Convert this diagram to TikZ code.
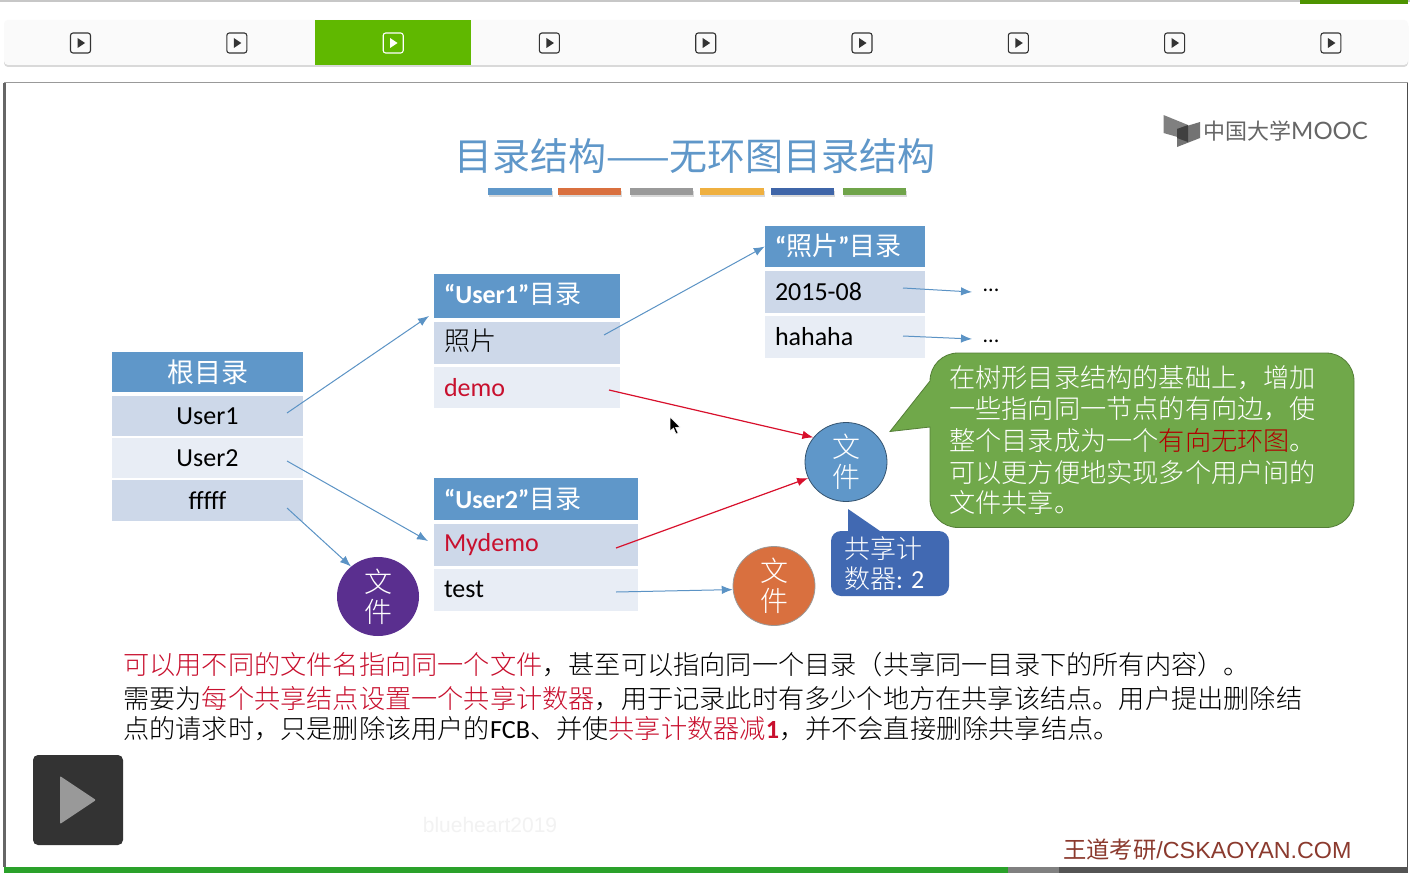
\documentclass[tikz,border=0pt]{standalone}
\usepackage{fontspec}
\usetikzlibrary{shapes.geometric,arrows.meta}
\setmainfont{Carlito}
\newfontfamily\cjk{Noto Sans CJK SC Light}
\newfontfamily\cjkr{Noto Sans CJK SC}
\newfontfamily\logofont{Lato}
\newfontfamily\footfont{Liberation Sans}
\newcommand{\cj}[1]{{\cjk #1}}
\newcommand{\cjr}[1]{{\cjkr #1}}
\definecolor{hdrblue}{HTML}{5F97C9}
\definecolor{rowdark}{HTML}{CDD8E9}
\definecolor{rowlight}{HTML}{E8EDF5}
\definecolor{redtxt}{HTML}{C8102E}
\definecolor{arrblue}{HTML}{5B93C5}
\definecolor{arrred}{HTML}{D8102C}
\definecolor{callgreen}{HTML}{70A84A}
\definecolor{callblue}{HTML}{4169B2}
\definecolor{barfill}{HTML}{FAFAFA}
\definecolor{acgreen}{HTML}{60B800}
\definecolor{filepurple}{HTML}{5A2F8F}
\definecolor{fileorange}{HTML}{D9703F}
\definecolor{bargray}{HTML}{9A9A9A}
\definecolor{bargold}{HTML}{EFB040}
\definecolor{bardkblue}{HTML}{3F65A8}
\definecolor{bargreen}{HTML}{70A44A}
\definecolor{footbrown}{HTML}{8B3A2E}
\definecolor{progress}{HTML}{2AA12A}
\tikzset{
  x=1pt,y=-1pt,
  cell/.style={rectangle,inner ysep=0pt,inner xsep=10pt,minimum height=#1,font=\fontsize{26}{28}\selectfont,anchor=center},
  hdr/.style={cell=#1,fill=hdrblue,text=white},
  rowd/.style={cell=#1,fill=rowdark,text=black},
  rowl/.style={cell=#1,fill=rowlight,text=black},
  bluearrow/.style={draw=arrblue,line width=1pt,-{Latex[length=11pt,width=8.5pt]}},
  redarrow/.style={draw=arrred,line width=1.2pt,-{Latex[length=11pt,width=8.5pt]}},
  filecircle/.style={ellipse,inner sep=0pt,minimum width=82pt,minimum height=79pt,text=white,align=center,font=\fontsize{28}{30}\selectfont\cjk},
  tabicon/.style={draw=#1,line width=1.1pt,rounded corners=2.5pt},
  bodytext/.style={inner sep=0pt,align=left,anchor=north west,font=\fontsize{26.2}{30}\selectfont\cjk},
}
\begin{document}
\begin{tikzpicture}
\useasboundingbox (0,0) rectangle (1410,875);
\fill[white] (0,0) rectangle (1410,875);
% window chrome
\fill[black!22] (0,0) rectangle (1410,2);
\fill[acgreen!80!black] (1300,0) rectangle (1408,4);
\fill[black!15,rounded corners=4pt] (4,22) rectangle (1408,67);
\fill[barfill,rounded corners=4pt] (4,20) rectangle (1408,65);
\fill[acgreen] (315,20) rectangle (471,65);
\foreach \c in {80.5,236.8,549.4,705.7,862,1018.3,1174.6,1330.9}{
  \draw[tabicon=black!80] (\c-10,33) rectangle (\c+10,53);
  \fill[black!80] (\c-3,38) -- (\c+4.5,43) -- (\c-3,48) -- cycle;
}
\draw[tabicon=white] (383.2,33) rectangle (403.2,53);
\fill[white] (390,38) -- (397.5,43) -- (390,48) -- cycle;
% slide frame
\draw[black!40,line width=0.8pt] (4,82.5) -- (1408,82.5);
\fill[black!60] (3,83) rectangle (6,867);
\fill[black!70] (1407,83) rectangle (1408,867);
% logo
\fill[black!50] (1163.5,115) -- (1188,125) -- (1188,140) -- (1163.5,133) -- cycle;
\fill[black!55] (1200,122) -- (1200,138) -- (1177,147) -- (1177,129) -- cycle;
\fill[black!75] (1177,129) -- (1188,125) -- (1188,142) -- (1177,138) -- cycle;
\node[inner sep=0pt,anchor=west,text=black!60] (logotext) at (1203,131) {\fontsize{22}{24}\selectfont\cjkr 中国大学\logofont\fontsize{24}{30}\selectfont MOOC};
% title
\node[inner sep=0pt,text=hdrblue] (title) at (695,156) {\fontsize{38}{40}\selectfont\cjkr 目录结构——无环图目录结构};
\foreach \a/\b/\cc in {488/552/hdrblue,558/621/fileorange,630/693/bargray,700/764/bargold,771/834/bardkblue,843/906/bargreen}{
  \fill[black!15] (\a+1,191) rectangle (\b+1,197);
  \fill[\cc] (\a,188) rectangle (\b,195);
}
% root table
\node[hdr=40pt,minimum width=191pt] (root) at (207.5,372) {\fontsize{27}{28}\selectfont\cjkr 根目录};
\node[rowd=40pt,minimum width=191pt] (rootA) at (207.5,416) {User1};
\node[rowl=40pt,minimum width=191pt] (rootB) at (207.5,458) {User2};
\node[rowd=41pt,minimum width=191pt] (rootC) at (207.5,500.5) {fffff};
% user1 table
\node[hdr=44pt,text width=166pt,align=left] (uone) at (527,296) {\raisebox{5pt}{\textbf{“User1”}\cjr{目录}}};
\node[rowd=42pt,text width=166pt,align=left] (uoneA) at (527,343) {\raisebox{6pt}{\cj{照片}}};
\node[rowl=41pt,text width=166pt,align=left] (uoneB) at (527,387.5) {\textcolor{redtxt}{demo}};
% photo table
\node[hdr=41pt,text width=140pt,align=left] (photo) at (845,246.5) {\raisebox{3pt}{\textbf{“}\cjr{照片}\textbf{”}\cjr{目录}}};
\node[rowd=42pt,text width=140pt,align=left] (photoA) at (845,292) {\raisebox{1pt}{2015-08}};
\node[rowl=42pt,text width=140pt,align=left] (photoB) at (845,337) {\raisebox{1pt}{hahaha}};
% user2 table
\node[hdr=42pt,text width=184pt,align=left] (utwo) at (536,499) {\raisebox{2pt}{\textbf{“User2”}\cjr{目录}}};
\node[rowd=42pt,text width=184pt,align=left] (utwoA) at (536,545) {\textcolor{redtxt}{Mydemo}};
\node[rowl=42pt,text width=184pt,align=left] (utwoB) at (536,590) {\raisebox{1pt}{test}};
% files
\node[filecircle,fill=filepurple] (filePurple) at (378,596.5) {文\\件};
\node[filecircle,fill=hdrblue,draw=black!45!hdrblue,line width=0.8pt] (fileBlue) at (846,462) {文\\件};
\node[filecircle,fill=fileorange,draw=black!40,line width=0.8pt] (fileOrange) at (774,586) {文\\件};
% dots
\node[inner sep=0pt,font=\fontsize{22}{24}\selectfont] (dotsA) at (991,290) {...};
\node[inner sep=0pt,font=\fontsize{22}{24}\selectfont] (dotsB) at (991,341) {...};
% connector anchors
\coordinate (sA) at (287,413); \coordinate (eA) at (429,316);
\coordinate (sB) at (287,461); \coordinate (eB) at (428,541);
\coordinate (sC) at (287,508);
\coordinate (sD) at (604,335);
\coordinate (sE) at (903,288); \coordinate (eE) at (972,292);
\coordinate (sF) at (903,336); \coordinate (eF) at (972,339);
\coordinate (sG) at (609,390);
\coordinate (sH) at (616,548);
\coordinate (sI) at (616,592);
\draw[bluearrow] (sA) -- (eA);
\draw[bluearrow] (sB) -- (eB);
\draw[bluearrow] (sC) -- (filePurple.132);
\draw[bluearrow] (sD) -- (photo.west);
\draw[bluearrow] (sE) -- (eE);
\draw[bluearrow] (sF) -- (eF);
\draw[redarrow] (sG) -- (fileBlue.143);
\draw[redarrow] (sH) -- (fileBlue.203);
\draw[bluearrow] (sI) -- (fileOrange.185);
% green callout
\draw[fill=callgreen,draw=callgreen!75!black,line width=0.8pt] (890,431.5) -- (930,381) .. controls (930,365.5) and (942.5,353) .. (958,353) -- (1326,353) .. controls (1341.5,353) and (1354,365.5) .. (1354,381) -- (1354,499.5) .. controls (1354,515) and (1341.5,527.5) .. (1326,527.5) -- (958,527.5) .. controls (942.5,527.5) and (930,515) .. (930,499.5) -- (930,427) -- cycle;
\node[bodytext,text=white] (note) at (949,365) {在树形目录结构的基础上，增加\\[1.7pt]一些指向同一节点的有向边，使\\[1.7pt]整个目录成为一个\textcolor{red!70!black}{有向无环图}。\\[1.5pt]可以更方便地实现多个用户间的\\文件共享。};
% blue callout
\path[fill=callblue] (848,509) -- (880,531) -- (939,531) .. controls (944.5,531) and (949,535.5) .. (949,541) -- (949,586) .. controls (949,591.5) and (944.5,596) .. (939,596) -- (841,596) .. controls (835.5,596) and (831,591.5) .. (831,586) -- (831,541) .. controls (831,535.5) and (835.5,531) .. (841,531) -- (848,531) -- cycle;
\node[inner sep=0pt,align=left,anchor=north west,text=white,font=\fontsize{26}{30}\selectfont] (counter) at (844,536) {\cj{共享计}\\\cj{数器}: 2};
% cursor
\draw[fill=black,draw=white,line width=0.5pt] (670,417) -- (670,431) -- (673.5,428) -- (676,434) -- (678,433) -- (675.5,427.5) -- (680,427) -- cycle;
% body text
\node[bodytext] (body) at (123,652) {\textcolor{redtxt}{可以用不同的文件名指向同一个文件}，甚至可以指向同一个目录（共享同一目录下的所有内容）。\\[4pt]需要为\textcolor{redtxt}{每个共享结点设置一个共享计数器}，用于记录此时有多少个地方在共享该结点。用户提出删除结\\点的请求时，只是删除该用户的{\fontspec{Carlito}FCB}、并使\textcolor{redtxt}{共享计数器减{\fontspec{Carlito}\bfseries 1}}，并不会直接删除共享结点。};
% play button
\fill[black!80,rounded corners=5pt] (33,755) rectangle (123,845);
\fill[black!40,rounded corners=1pt] (60,776) -- (96,800) -- (60,824) -- cycle;
% watermark
\node[inner sep=0pt,text=black!5,font=\footfont\fontsize{21}{24}\selectfont] (mark) at (490,825) {blueheart2019};
% footer
\node[inner sep=0pt,anchor=west,text=footbrown,font=\footfont\fontsize{23.3}{26}\selectfont] (foot) at (1063,850) {\cjr{王道考研}/CSKAOYAN.COM};
\fill[progress] (4,867) rectangle (1008,873);
\fill[black!50] (1008,867) rectangle (1059,873);
\fill[black!67] (1059,867) rectangle (1408,873);
\end{tikzpicture}
\end{document}
